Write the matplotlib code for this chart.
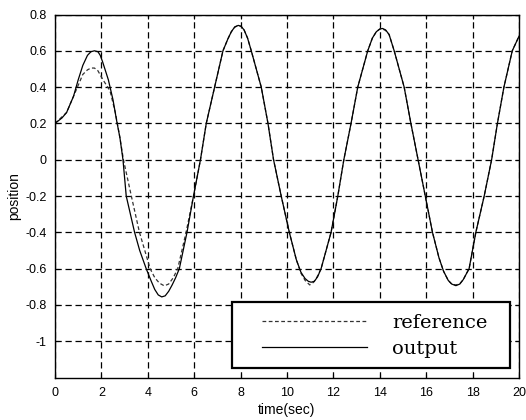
import matplotlib
matplotlib.use('Agg')
import matplotlib.pyplot as plt
from matplotlib.patches import Rectangle

# values
out_t = [0, 0.3, 0.5, 0.8, 1.0, 1.2, 1.4, 1.55, 1.7, 1.85, 1.95, 2.05, 2.3, 2.5,
         2.65, 2.8, 2.93, 3.07, 3.25, 3.43, 3.65, 3.93, 4.15, 4.3, 4.45, 4.6,
         4.75, 4.9, 5.05, 5.2, 5.36, 5.69, 5.97, 6.27, 6.52, 6.88, 7.24, 7.45,
         7.6, 7.75, 7.9, 8.02, 8.15, 8.3, 8.46, 8.89, 9.18, 9.42, 9.75, 10.1,
         10.4, 10.6, 10.78, 10.92, 11.04, 11.18, 11.32, 11.47, 11.9, 12.19,
         12.45, 12.76, 13.05, 13.48, 13.68, 13.85, 14.0, 14.12, 14.25, 14.4,
         14.62, 15.05, 15.34, 15.65, 15.96, 16.27, 16.55, 16.75, 16.95, 17.1,
         17.28, 17.45, 17.6, 17.85, 18.14, 18.5, 18.82, 19.07, 19.35, 19.71,
         20.0]
out_y = [0.20, 0.23, 0.26, 0.35, 0.44, 0.52, 0.575, 0.595, 0.60, 0.595, 0.575,
         0.54, 0.44, 0.33, 0.22, 0.12, 0.0, -0.2, -0.3, -0.4, -0.5, -0.6, -0.67,
         -0.715, -0.745, -0.756, -0.75, -0.725, -0.69, -0.65, -0.6, -0.4, -0.2,
         0.0, 0.2, 0.4, 0.6, 0.665, 0.705, 0.732, 0.74, 0.735, 0.715, 0.67,
         0.6, 0.4, 0.2, 0.0, -0.2, -0.4, -0.55, -0.62, -0.655, -0.67, -0.675,
         -0.67, -0.645, -0.6, -0.4, -0.2, 0.0, 0.2, 0.4, 0.6, 0.67, 0.705,
         0.72, 0.723, 0.715, 0.69, 0.6, 0.4, 0.2, 0.0, -0.2, -0.4, -0.54,
         -0.615, -0.665, -0.685, -0.694, -0.685, -0.66, -0.6, -0.4, -0.2, 0.0,
         0.2, 0.4, 0.6, 0.68]

ref_t = [0, 0.5, 0.9, 1.2, 1.4, 1.55, 1.7, 1.85, 2.07, 2.37, 2.6, 2.8, 2.95,
         3.29, 3.64, 4.1, 4.3, 4.5, 4.71, 4.9, 5.1, 5.29, 5.65, 5.97, 6.27,
         6.52, 6.88, 7.24, 7.45, 7.6, 7.75, 7.9, 8.02, 8.15, 8.3, 8.46, 8.89,
         9.18, 9.42, 9.75, 10.1, 10.4, 10.6, 10.78, 10.98, 11.15, 11.3, 11.47,
         11.9, 12.19, 12.45, 12.76, 13.05, 13.48, 13.68, 13.85, 14.0, 14.12,
         14.25, 14.4, 14.62, 15.05, 15.34, 15.65, 15.96, 16.27, 16.55, 16.75,
         16.95, 17.1, 17.28, 17.45, 17.6, 17.85, 18.14, 18.5, 18.82, 19.07,
         19.35, 19.71, 20.0]
ref_y = [0.20, 0.26, 0.38, 0.47, 0.495, 0.505, 0.505, 0.49, 0.44, 0.38, 0.26,
         0.12, 0.0, -0.2, -0.4, -0.6, -0.65, -0.68, -0.695, -0.685, -0.65,
         -0.6, -0.4, -0.2, 0.0, 0.2, 0.4, 0.6, 0.665, 0.705, 0.73, 0.74,
         0.735, 0.715, 0.67, 0.6, 0.4, 0.2, 0.0, -0.2, -0.4, -0.55, -0.625,
         -0.665, -0.69, -0.675, -0.645, -0.6, -0.4, -0.2, 0.0, 0.2, 0.4, 0.6,
         0.67, 0.705, 0.72, 0.72, 0.712, 0.69, 0.6, 0.4, 0.2, 0.0, -0.2, -0.4,
         -0.54, -0.615, -0.665, -0.685, -0.69, -0.683, -0.66, -0.6, -0.4,
         -0.2, 0.0, 0.2, 0.4, 0.6, 0.68]

x_ticks = [0, 2, 4, 6, 8, 10, 12, 14, 16, 18, 20]
y_ticks = [0.8, 0.6, 0.4, 0.2, 0, -0.2, -0.4, -0.6, -0.8, -1]
y_labels = ['0.8', '0.6', '0.4', '0.2', '0', '-0.2', '-0.4', '-0.6', '-0.8', '-1']

plt.rcParams['font.family'] = ['Liberation Sans', 'DejaVu Sans']

fig = plt.figure(figsize=(5.26, 4.2), dpi=100)
ax = fig.add_axes([55 / 526, 1 - 377.5 / 420, 464 / 526, 363 / 420])

ref_line, = ax.plot(ref_t, ref_y, color='#333333', lw=0.9, ls=(0, (3, 2)))
out_line, = ax.plot(out_t, out_y, color='black', lw=0.9)

ax.set_xlim(0, 20)
ax.set_ylim(-1.2, 0.8)
ax.set_xticks(x_ticks)
ax.set_yticks(y_ticks)
ax.set_yticklabels(y_labels)
ax.tick_params(direction='in', length=3, width=0.8, labelsize=9,
               top=True, right=True, colors='black')
ax.tick_params(axis='x', pad=7)
ax.tick_params(axis='y', pad=6)
ax.grid(True, color='black', lw=0.9, ls=(0, (5, 3)))
for s in ax.spines.values():
    s.set_linewidth(1.0)

ax.set_xlabel('time(sec)', fontsize=10, labelpad=3)
ax.set_ylabel('position', fontsize=10, labelpad=3)

# legend box
box = Rectangle((0.381, 0.026), 0.6, 0.182, transform=ax.transAxes,
                facecolor='white', edgecolor='black', lw=1.6, zorder=4)
ax.add_patch(box)
ax.legend([ref_line, out_line], ['reference', 'output'],
          loc='center left', bbox_to_anchor=(0.425, 0.114), frameon=False,
          prop={'family': 'DejaVu Serif', 'size': 14}, borderpad=0,
          handlelength=5.4, handletextpad=1.3, labelspacing=0.4)

fig.savefig('out.png', dpi=100)
